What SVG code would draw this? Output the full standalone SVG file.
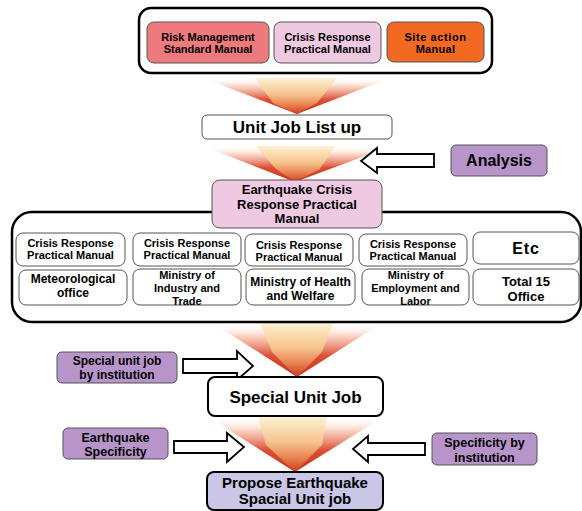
<svg xmlns="http://www.w3.org/2000/svg" width="582" height="511" viewBox="0 0 582 511">
<defs>
<linearGradient id="gWing" x1="0" y1="0" x2="0" y2="1">
<stop offset="0" stop-color="#ffffff" stop-opacity="0"/>
<stop offset="0.25" stop-color="#f7c0aa" stop-opacity="0.75"/>
<stop offset="0.6" stop-color="#dc5033"/>
<stop offset="1" stop-color="#c5301c"/>
</linearGradient>
<linearGradient id="gBand" x1="0" y1="0" x2="0" y2="1">
<stop offset="0" stop-color="#fcf2d2"/>
<stop offset="0.45" stop-color="#f6c48e"/>
<stop offset="0.75" stop-color="#ea8050"/>
<stop offset="1" stop-color="#cc3a1e"/>
</linearGradient>
</defs>
<style>
text{font-family:"Liberation Sans",Arial,sans-serif;font-weight:bold;fill:#000;text-anchor:middle}
.wing{fill:url(#gWing)}
.band{fill:url(#gBand)}
.arrow{fill:#fff;stroke:#000;stroke-width:1.8;stroke-linejoin:miter}
.frame{fill:#fff;stroke:#000;stroke-width:2.5}
.box{stroke:#555;stroke-width:1}
.white{fill:#fff}
.pink{fill:#efc9e1}
.red{fill:#ef7a7e}
.orange{fill:#f26a21}
.purple{fill:#b794c9}
.t11{font-size:11px}
.t12{font-size:12px}
.t13{font-size:13px}
</style>
<rect width="582" height="511" fill="#fff"/>

<g id="connectors">
<g id="funnel1"><polygon class="wing" points="203,78 390,78 297,114"/><polygon class="band" points="255,78 337,78 317,103 297,114 273,103"/></g>
<g id="funnel2"><polygon class="wing" points="203,146 392,146 295,182"/><polygon class="band" points="256,146 335,146 320,169 295,182 276,169"/></g>
<g id="funnel3"><polygon class="wing" points="213,323 382,323 297,377"/><polygon class="band" points="260,323 333,323 322,352 297,377 272,352"/></g>
<g id="funnel4"><polygon class="wing" points="208,417 383,417 295,472"/><polygon class="band" points="258,417 327,417 322,445 295,472 266,445"/></g>
<polygon id="arrow-analysis" class="arrow" points="361,161 377,148 377,154 434,154 434,167 377,167 377,173"/>
<polygon id="arrow-special" class="arrow" points="183,359 237,359 237,351 253,366 237,380 237,373 183,373"/>
<polygon id="arrow-eq" class="arrow" points="174,441 227,441 227,433 244,447 227,462 227,453 174,453"/>
<polygon id="arrow-inst" class="arrow" points="353,449 368,436 368,443 425,443 425,455 368,455 368,462"/>
</g>

<g id="top-container">
<rect class="frame" x="139" y="8" width="353" height="65" rx="12"/>
</g>
<g id="risk-manual">
<rect class="box red" x="147" y="22" width="122" height="41" rx="7"/>
<text class="t11" x="208" y="41">Risk Management</text>
<text class="t11" x="208" y="53">Standard Manual</text>
</g>
<g id="crisis-manual">
<rect class="box pink" x="274" y="22" width="107" height="41" rx="7"/>
<text class="t11" x="327.5" y="41">Crisis Response</text>
<text class="t11" x="327.5" y="53">Practical Manual</text>
</g>
<g id="site-manual">
<rect class="box orange" x="387" y="22" width="97" height="40" rx="7"/>
<text class="t11" x="435.5" y="41" letter-spacing="0.6">Site action</text>
<text class="t11" x="435.5" y="53" letter-spacing="0.3">Manual</text>
</g>

<g id="unit-job">
<rect class="box white" x="202" y="115" width="190" height="24" rx="5" stroke="#666"/>
<text x="297" y="133" font-size="17px">Unit Job List up</text>
</g>

<g id="analysis">
<rect class="box purple" x="451" y="145" width="96" height="31" rx="5"/>
<text x="499" y="166" font-size="16px">Analysis</text>
</g>

<g id="institution-container">
<rect class="frame" x="12" y="212" width="569" height="110" rx="20"/>
</g>

<g id="eq-crisis-manual">
<rect class="box pink" x="212" y="180" width="170" height="48" rx="8"/>
<text x="297" y="194" font-size="13px">Earthquake Crisis</text>
<text x="297" y="208.5" font-size="13px">Response Practical</text>
<text x="297" y="223" font-size="13px">Manual</text>
</g>

<g id="crm1">
<rect class="box white" x="16" y="233" width="109" height="33" rx="7"/>
<text class="t11" x="70.5" y="246.5">Crisis Response</text>
<text class="t11" x="70.5" y="259">Practical Manual</text>
</g>
<g id="crm2">
<rect class="box white" x="133" y="233" width="108" height="33" rx="7"/>
<text class="t11" x="187" y="246.5">Crisis Response</text>
<text class="t11" x="187" y="259">Practical Manual</text>
</g>
<g id="crm3">
<rect class="box white" x="245" y="234" width="108" height="32" rx="7"/>
<text class="t11" x="299" y="248.5">Crisis Response</text>
<text class="t11" x="299" y="261">Practical Manual</text>
</g>
<g id="crm4">
<rect class="box white" x="359" y="234" width="108" height="32" rx="7"/>
<text class="t11" x="413" y="247.5">Crisis Response</text>
<text class="t11" x="413" y="260">Practical Manual</text>
</g>
<g id="etc">
<rect class="box white" x="473" y="232" width="106" height="32" rx="7"/>
<text x="526" y="254" font-size="16px" letter-spacing="0.8">Etc</text>
</g>

<g id="meteorological">
<rect class="box white" x="19" y="270" width="108" height="35" rx="7"/>
<text class="t12" x="73" y="283">Meteorological</text>
<text class="t12" x="73" y="297">office</text>
</g>
<g id="industry">
<rect class="box white" x="133" y="269" width="108" height="36" rx="7"/>
<text class="t11" x="187" y="278.5">Ministry of</text>
<text class="t11" x="187" y="291.5">Industry and</text>
<text class="t11" x="187" y="304.5">Trade</text>
</g>
<g id="health">
<rect class="box white" x="246" y="269" width="109" height="36" rx="7"/>
<text class="t12" x="300.5" y="286">Ministry of Health</text>
<text class="t12" x="300.5" y="300">and Welfare</text>
</g>
<g id="employment">
<rect class="box white" x="362" y="269" width="107" height="36" rx="7"/>
<text class="t11" x="415.5" y="278.5">Ministry of</text>
<text class="t11" x="415.5" y="291.5">Employment and</text>
<text class="t11" x="415.5" y="304.5">Labor</text>
</g>
<g id="total">
<rect class="box white" x="473" y="269" width="106" height="36" rx="7"/>
<text class="t13" x="526" y="286">Total 15</text>
<text class="t13" x="526" y="300.5">Office</text>
</g>

<g id="special-by-inst">
<rect class="box purple" x="57" y="352" width="120" height="31" rx="5"/>
<text x="117" y="365" font-size="12px">Special unit job</text>
<text x="117" y="378.5" font-size="12px">by institution</text>
</g>

<g id="special-unit-job">
<rect x="208" y="377" width="175" height="39" rx="7" fill="#fff" stroke="#000" stroke-width="2"/>
<text x="295.5" y="403" font-size="17px">Special Unit Job</text>
</g>

<g id="eq-specificity">
<rect class="box purple" x="63" y="428" width="105" height="31" rx="5"/>
<text x="115.5" y="441.5" font-size="12.5px">Earthquake</text>
<text x="115.5" y="455.5" font-size="12.5px">Specificity</text>
</g>

<g id="inst-specificity">
<rect class="box purple" x="432" y="433" width="105" height="32" rx="5"/>
<text x="484.5" y="447" font-size="12.5px">Specificity by</text>
<text x="484.5" y="461.5" font-size="12.5px">institution</text>
</g>

<g id="propose">
<rect x="207" y="472" width="176" height="38" rx="7" fill="#c9c6e6" stroke="#000" stroke-width="2"/>
<text x="295" y="488" font-size="15px">Propose Earthquake</text>
<text x="295" y="504" font-size="15px">Spacial Unit job</text>
</g>
</svg>
